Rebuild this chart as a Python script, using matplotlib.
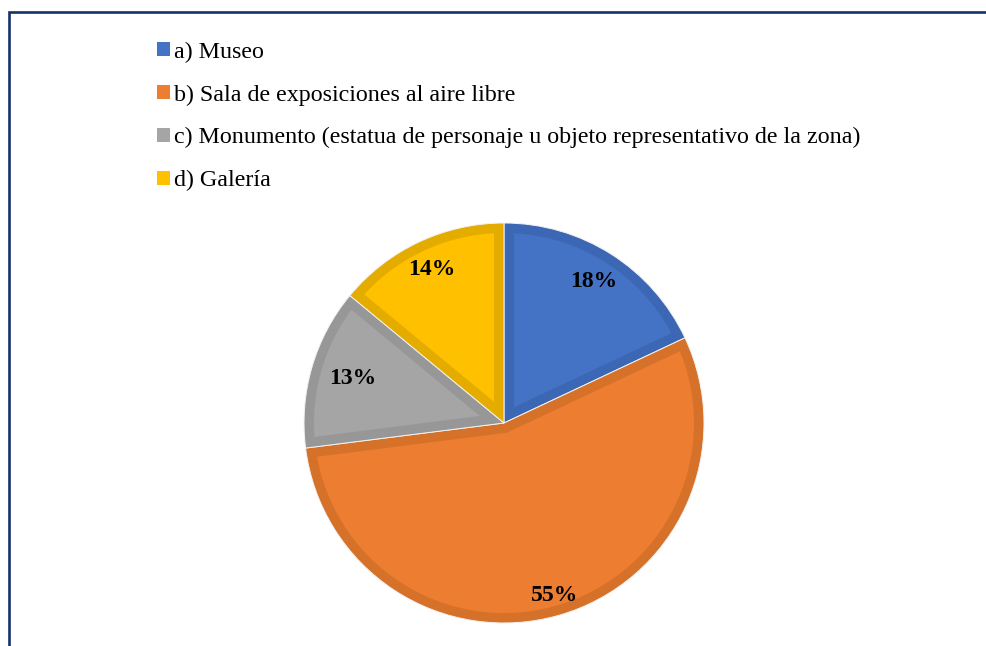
import matplotlib
matplotlib.use('Agg')
import numpy as np
import matplotlib.pyplot as plt
from matplotlib.patches import Patch, Rectangle, Polygon

# data
labels = ['a) Museo',
          'b) Sala de exposiciones al aire libre',
          'c) Monumento (estatua de personaje u objeto representativo de la zona)',
          'd) Galería']
values = [18, 55, 13, 14]
fill_colors = ['#4472C4', '#ED7D31', '#A5A5A5', '#FFC000']
edge_colors = ['#3C67B4', '#D67129', '#979797', '#E5AC00']
label_dist = [0.84, 0.9, 0.79, 0.85]

plt.rcParams['font.family'] = ['Liberation Serif', 'DejaVu Serif']

W, H = 987, 646
fig = plt.figure(figsize=(W / 100, H / 100), dpi=100)

# frame around the chart area (cut off at right and bottom)
frame = Rectangle((9 / W, -0.1), 1.2, (H - 12) / H + 0.1, transform=fig.transFigure,
                  fill=False, edgecolor='#16326a', linewidth=1.9)
fig.patches.append(frame)

# pie axes: centre ~(504, 423) px, radius ~200 px
cx, cy, r = 504, 423, 200
ax = fig.add_axes([(cx - r) / W, (H - cy - r) / H, 2 * r / W, 2 * r / H])

# slices drawn in the darker border colour, light hairline between them
wedges, texts, autotexts = ax.pie(values, colors=edge_colors, startangle=90, counterclock=False,
                                  radius=1, autopct='%1.0f%%', pctdistance=0.84,
                                  wedgeprops=dict(edgecolor='#f2f2f2', linewidth=0.7),
                                  textprops=dict(fontsize=17, fontweight='bold', color='black', zorder=5))

# lighter inset on every slice leaves a darker inner border (~10 px)
bw = 10 / r
for w, fc in zip(wedges, fill_colors):
    t1, t2 = sorted((w.theta1, w.theta2))
    R = w.r
    half = np.deg2rad(t2 - t1) / 2
    mid = np.deg2rad(t1) + half
    tip = bw / np.sin(half)
    alpha = np.rad2deg(np.arcsin(bw / (R - bw)))
    arc = np.deg2rad(np.linspace(t1 + alpha, t2 - alpha, 120))
    xs = np.concatenate([[tip * np.cos(mid)], (R - bw) * np.cos(arc)])
    ys = np.concatenate([[tip * np.sin(mid)], (R - bw) * np.sin(arc)])
    ax.add_patch(Polygon(np.column_stack([xs, ys]), closed=True, facecolor=fc,
                         edgecolor='none', zorder=3))

# place each percentage along its slice's mid angle
for w, t, d in zip(wedges, autotexts, label_dist):
    mid = np.deg2rad((w.theta1 + w.theta2) / 2)
    t.set_position((d * np.cos(mid), d * np.sin(mid)))

ax.set_xlim(-1.0, 1.0)
ax.set_ylim(-1.0, 1.0)
ax.set_aspect('equal')
ax.axis('off')

handles = [Patch(facecolor=c, edgecolor='none') for c in fill_colors]
fig.legend(handles, labels, loc='upper left', bbox_to_anchor=(147.5 / W, 1 - 32 / H),
           frameon=False, fontsize=17.3, handlelength=0.54, handleheight=0.54,
           handletextpad=0.15, labelspacing=0.9, borderaxespad=0)

fig.savefig('out.png', dpi=100, facecolor='white')
